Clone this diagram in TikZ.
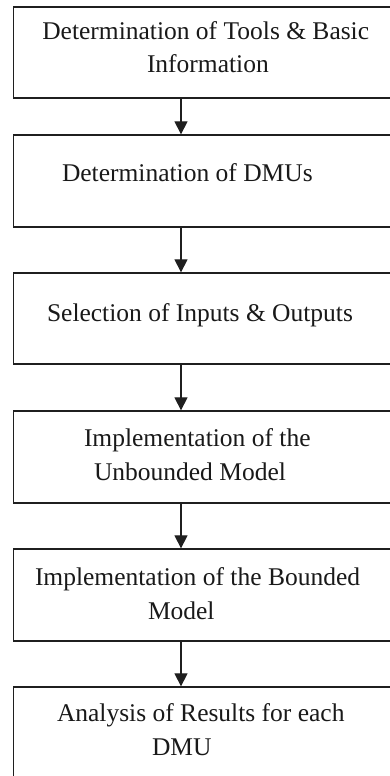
\documentclass[tikz,border=0pt]{standalone}
\usepackage{fontspec}
\setmainfont{Liberation Serif}
\usetikzlibrary{arrows.meta}
\begin{document}
\begin{tikzpicture}[x=1pt,y=-1pt,
  stepbox/.style={draw=black!88,line width=1.3pt,rectangle,inner sep=0pt,minimum width=386.5pt},
  lbl/.style={anchor=base west,inner sep=0pt,outer sep=0pt,font=\fontsize{25.5}{33}\selectfont,text=black!90},
  arr/.style={draw=black!88,line width=1.2pt,-{Triangle[width=13pt,length=13pt]}}]
\useasboundingbox (0,0) rectangle (390,776);
\coordinate (ax) at (181,0);
\node[stepbox,minimum height=91pt] (b1) at (206.75,52.5) {};
\node[stepbox,minimum height=92pt] (b2) at (206.75,181) {};
\node[stepbox,minimum height=91pt] (b3) at (206.75,318.5) {};
\node[stepbox,minimum height=92pt] (b4) at (206.75,457) {};
\node[stepbox,minimum height=92pt] (b5) at (206.75,595) {};
\node[stepbox,minimum height=96pt] (b6) at (206.75,735) {};
\node[lbl] (t1a) at (42.3,40) {Determination of Tools \& Basic};
\node[lbl] (t1b) at (147,72.7) {Information};
\node[lbl] (t2) at (62,181.7) {Determination of DMUs};
\node[lbl] (t3) at (47,321.7) {Selection of Inputs \& Outputs};
\node[lbl] (t4a) at (84,446.7) {Implementation of the};
\node[lbl] (t4b) at (94,480) {Unbounded Model};
\node[lbl] (t5a) at (35,585) {Implementation of the Bounded};
\node[lbl] (t5b) at (148,619.3) {Model};
\node[lbl] (t6a) at (57,721.7) {Analysis of Results for each};
\node[lbl] (t6b) at (152,755) {DMU};
\draw[arr] (b1.south -| ax) -- (b2.north -| ax);
\draw[arr] (b2.south -| ax) -- (b3.north -| ax);
\draw[arr] (b3.south -| ax) -- (b4.north -| ax);
\draw[arr] (b4.south -| ax) -- (b5.north -| ax);
\draw[arr] (b5.south -| ax) -- (b6.north -| ax);
\end{tikzpicture}
\end{document}
